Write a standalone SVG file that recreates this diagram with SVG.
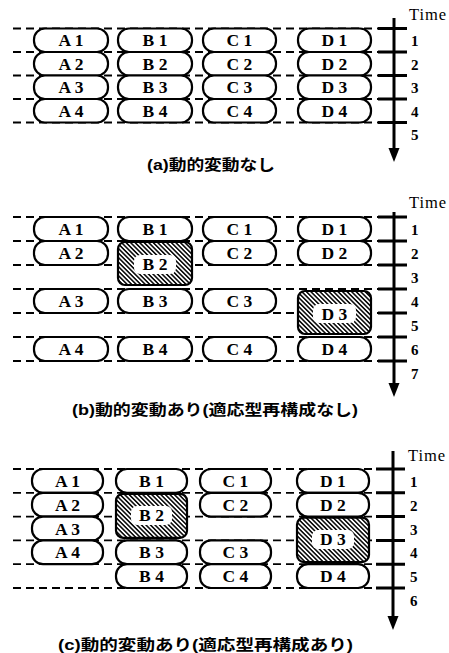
<svg xmlns="http://www.w3.org/2000/svg" width="449" height="653" viewBox="0 0 449 653">
<defs>
<style>
.pill{fill:#fff;stroke:#000;stroke-width:2.2}
.box{fill:url(#hatch);stroke:#000;stroke-width:2.2}
.hole{fill:#fff;stroke:none}
.lbl{font-family:"Liberation Serif","DejaVu Serif",serif;font-weight:bold;font-size:17.5px;text-anchor:middle;fill:#000}
.dash{stroke:#000;stroke-width:1.8;stroke-dasharray:8 5;fill:none}
.axis{stroke:#000;stroke-width:3;fill:none}
.tick{stroke:#000;stroke-width:3}
.num{font-family:"Liberation Serif","DejaVu Serif",serif;font-weight:bold;font-size:15px;fill:#000}
.time{font-family:"Liberation Serif","DejaVu Serif",serif;font-size:16.5px;fill:#000}
.cap{font-family:"Liberation Sans","Noto Sans CJK JP",sans-serif;font-weight:bold;font-size:15px;fill:#000}
</style>
<pattern id="hatch" width="3.2" height="3.2" patternUnits="userSpaceOnUse" patternTransform="rotate(-45)">
<rect width="3.2" height="3.2" fill="#fff"/>
<line x1="0.8" y1="0" x2="0.8" y2="3.2" stroke="#000" stroke-width="1.5"/>
</pattern>
</defs>
<rect width="449" height="653" fill="#fff"/>

<!-- connectors: dashed time lines, axes, ticks -->
<g id="connectors">
<!-- panel a -->
<path class="dash" d="M13 28.5H378M13 52H378M13 75.5H378M13 99H378M13 122.5H378"/>
<path class="axis" d="M394 18V150"/>
<polygon points="388.5,148 399.5,148 394,162" fill="#000"/>
<path class="tick" d="M378 28.5H407M378 52H407M378 75.5H407M378 99H407M378 122.5H407"/>
<!-- panel b -->
<path class="dash" d="M13 217H378M13 241H378M13 265H378M13 289H378M13 313H378M13 337H378M13 361H378"/>
<path class="axis" d="M394 212V385"/>
<polygon points="388.5,383 399.5,383 394,397" fill="#000"/>
<path class="tick" d="M378 217H407M378 241H407M378 265H407M378 289H407M378 313H407M378 337H407M378 361H407"/>
<!-- panel c -->
<path class="dash" d="M13 469H376M13 492.8H376M13 516.6H376M13 540.4H376M13 564.2H376M13 588H376"/>
<path class="axis" d="M393 451V618"/>
<polygon points="387.5,616 398.5,616 393,630" fill="#000"/>
<path class="tick" d="M376 469H405M376 492.8H405M376 516.6H405M376 540.4H405M376 564.2H405M376 588H405"/>
</g>

<!-- panel a nodes -->
<g id="a-A1"><rect class="pill" x="34" y="28.5" width="74" height="23.5" rx="11"/><text class="lbl" x="71" y="46">A 1</text></g>
<g id="a-B1"><rect class="pill" x="118" y="28.5" width="74" height="23.5" rx="11"/><text class="lbl" x="155" y="46">B 1</text></g>
<g id="a-C1"><rect class="pill" x="203" y="28.5" width="73" height="23.5" rx="11"/><text class="lbl" x="239.5" y="46">C 1</text></g>
<g id="a-D1"><rect class="pill" x="298" y="28.5" width="73" height="23.5" rx="11"/><text class="lbl" x="334.5" y="46">D 1</text></g>
<g id="a-A2"><rect class="pill" x="34" y="52" width="74" height="23.5" rx="11"/><text class="lbl" x="71" y="69.5">A 2</text></g>
<g id="a-B2"><rect class="pill" x="118" y="52" width="74" height="23.5" rx="11"/><text class="lbl" x="155" y="69.5">B 2</text></g>
<g id="a-C2"><rect class="pill" x="203" y="52" width="73" height="23.5" rx="11"/><text class="lbl" x="239.5" y="69.5">C 2</text></g>
<g id="a-D2"><rect class="pill" x="298" y="52" width="73" height="23.5" rx="11"/><text class="lbl" x="334.5" y="69.5">D 2</text></g>
<g id="a-A3"><rect class="pill" x="34" y="75.5" width="74" height="23.5" rx="11"/><text class="lbl" x="71" y="93">A 3</text></g>
<g id="a-B3"><rect class="pill" x="118" y="75.5" width="74" height="23.5" rx="11"/><text class="lbl" x="155" y="93">B 3</text></g>
<g id="a-C3"><rect class="pill" x="203" y="75.5" width="73" height="23.5" rx="11"/><text class="lbl" x="239.5" y="93">C 3</text></g>
<g id="a-D3"><rect class="pill" x="298" y="75.5" width="73" height="23.5" rx="11"/><text class="lbl" x="334.5" y="93">D 3</text></g>
<g id="a-A4"><rect class="pill" x="34" y="99" width="74" height="23.5" rx="11"/><text class="lbl" x="71" y="116.5">A 4</text></g>
<g id="a-B4"><rect class="pill" x="118" y="99" width="74" height="23.5" rx="11"/><text class="lbl" x="155" y="116.5">B 4</text></g>
<g id="a-C4"><rect class="pill" x="203" y="99" width="73" height="23.5" rx="11"/><text class="lbl" x="239.5" y="116.5">C 4</text></g>
<g id="a-D4"><rect class="pill" x="298" y="99" width="73" height="23.5" rx="11"/><text class="lbl" x="334.5" y="116.5">D 4</text></g>
<g id="a-axis-labels">
<text class="time" x="409" y="20" textLength="37">Time</text>
<text class="num" x="411" y="46">1</text><text class="num" x="411" y="69.5">2</text><text class="num" x="411" y="93">3</text><text class="num" x="411" y="116.5">4</text><text class="num" x="411" y="140">5</text>
</g>
<g id="a-caption"><text class="cap" x="147" y="170" textLength="128" lengthAdjust="spacingAndGlyphs">(a)動的変動なし</text></g>

<!-- panel b nodes -->
<g id="b-A1"><rect class="pill" x="34" y="217" width="74" height="24" rx="11"/><text class="lbl" x="71" y="235">A 1</text></g>
<g id="b-B1"><rect class="pill" x="118" y="217" width="74" height="24" rx="11"/><text class="lbl" x="155" y="235">B 1</text></g>
<g id="b-C1"><rect class="pill" x="203" y="217" width="73" height="24" rx="11"/><text class="lbl" x="239.5" y="235">C 1</text></g>
<g id="b-D1"><rect class="pill" x="298" y="217" width="73" height="24" rx="11"/><text class="lbl" x="334.5" y="235">D 1</text></g>
<g id="b-A2"><rect class="pill" x="34" y="241" width="74" height="24" rx="11"/><text class="lbl" x="71" y="259">A 2</text></g>
<g id="b-B2"><rect class="box" x="118" y="242" width="74" height="43" rx="7"/><rect class="hole" x="134" y="255" width="42" height="19" rx="6"/><text class="lbl" x="155" y="270">B 2</text></g>
<g id="b-C2"><rect class="pill" x="203" y="241" width="73" height="24" rx="11"/><text class="lbl" x="239.5" y="259">C 2</text></g>
<g id="b-D2"><rect class="pill" x="298" y="241" width="73" height="24" rx="11"/><text class="lbl" x="334.5" y="259">D 2</text></g>
<g id="b-A3"><rect class="pill" x="34" y="289" width="74" height="24" rx="11"/><text class="lbl" x="71" y="307">A 3</text></g>
<g id="b-B3"><rect class="pill" x="118" y="289" width="74" height="24" rx="11"/><text class="lbl" x="155" y="307">B 3</text></g>
<g id="b-C3"><rect class="pill" x="203" y="289" width="73" height="24" rx="11"/><text class="lbl" x="239.5" y="307">C 3</text></g>
<g id="b-D3"><rect class="box" x="298" y="291" width="73" height="43" rx="7"/><rect class="hole" x="313" y="304" width="43" height="19" rx="6"/><text class="lbl" x="334.5" y="320">D 3</text></g>
<g id="b-A4"><rect class="pill" x="34" y="337" width="74" height="24" rx="11"/><text class="lbl" x="71" y="355">A 4</text></g>
<g id="b-B4"><rect class="pill" x="118" y="337" width="74" height="24" rx="11"/><text class="lbl" x="155" y="355">B 4</text></g>
<g id="b-C4"><rect class="pill" x="203" y="337" width="73" height="24" rx="11"/><text class="lbl" x="239.5" y="355">C 4</text></g>
<g id="b-D4"><rect class="pill" x="298" y="337" width="73" height="24" rx="11"/><text class="lbl" x="334.5" y="355">D 4</text></g>
<g id="b-axis-labels">
<text class="time" x="409" y="208" textLength="37">Time</text>
<text class="num" x="411" y="235">1</text><text class="num" x="411" y="259">2</text><text class="num" x="411" y="283">3</text><text class="num" x="411" y="307">4</text><text class="num" x="411" y="331">5</text><text class="num" x="411" y="355">6</text><text class="num" x="411" y="379">7</text>
</g>
<g id="b-caption"><text class="cap" x="72" y="415" textLength="286" lengthAdjust="spacingAndGlyphs">(b)動的変動あり(適応型再構成なし)</text></g>

<!-- panel c nodes -->
<g id="c-A1"><rect class="pill" x="32" y="469" width="71" height="23.8" rx="11"/><text class="lbl" x="67.5" y="486.9">A 1</text></g>
<g id="c-B1"><rect class="pill" x="116" y="469" width="71" height="23.8" rx="11"/><text class="lbl" x="151.5" y="486.9">B 1</text></g>
<g id="c-C1"><rect class="pill" x="200" y="469" width="71" height="23.8" rx="11"/><text class="lbl" x="235.5" y="486.9">C 1</text></g>
<g id="c-D1"><rect class="pill" x="297" y="469" width="72" height="23.8" rx="11"/><text class="lbl" x="333" y="486.9">D 1</text></g>
<g id="c-A2"><rect class="pill" x="32" y="492.8" width="71" height="23.8" rx="11"/><text class="lbl" x="67.5" y="510.7">A 2</text></g>
<g id="c-B2"><rect class="box" x="116" y="493.8" width="71" height="44" rx="7"/><rect class="hole" x="131" y="506" width="41" height="19" rx="6"/><text class="lbl" x="151.5" y="521">B 2</text></g>
<g id="c-C2"><rect class="pill" x="200" y="492.8" width="71" height="23.8" rx="11"/><text class="lbl" x="235.5" y="510.7">C 2</text></g>
<g id="c-D2"><rect class="pill" x="297" y="492.8" width="72" height="23.8" rx="11"/><text class="lbl" x="333" y="510.7">D 2</text></g>
<g id="c-A3"><rect class="pill" x="32" y="516.6" width="71" height="23.8" rx="11"/><text class="lbl" x="67.5" y="534.5">A 3</text></g>
<g id="c-D3"><rect class="box" x="297" y="517.6" width="72" height="44.5" rx="7"/><rect class="hole" x="312" y="530" width="42" height="19" rx="6"/><text class="lbl" x="333" y="545">D 3</text></g>
<g id="c-A4"><rect class="pill" x="32" y="540.4" width="71" height="23.8" rx="11"/><text class="lbl" x="67.5" y="558.3">A 4</text></g>
<g id="c-B3"><rect class="pill" x="116" y="540.4" width="71" height="23.8" rx="11"/><text class="lbl" x="151.5" y="558.3">B 3</text></g>
<g id="c-C3"><rect class="pill" x="200" y="540.4" width="71" height="23.8" rx="11"/><text class="lbl" x="235.5" y="558.3">C 3</text></g>
<g id="c-B4"><rect class="pill" x="116" y="564.2" width="71" height="23.8" rx="11"/><text class="lbl" x="151.5" y="582.1">B 4</text></g>
<g id="c-C4"><rect class="pill" x="200" y="564.2" width="71" height="23.8" rx="11"/><text class="lbl" x="235.5" y="582.1">C 4</text></g>
<g id="c-D4"><rect class="pill" x="297" y="564.2" width="72" height="23.8" rx="11"/><text class="lbl" x="333" y="582.1">D 4</text></g>
<g id="c-axis-labels">
<text class="time" x="408" y="461" textLength="37">Time</text>
<text class="num" x="410" y="487">1</text><text class="num" x="410" y="510.8">2</text><text class="num" x="410" y="534.6">3</text><text class="num" x="410" y="558.4">4</text><text class="num" x="410" y="582.2">5</text><text class="num" x="410" y="606">6</text>
</g>
<g id="c-caption"><text class="cap" x="58" y="650" textLength="295" lengthAdjust="spacingAndGlyphs">(c)動的変動あり(適応型再構成あり)</text></g>
</svg>
